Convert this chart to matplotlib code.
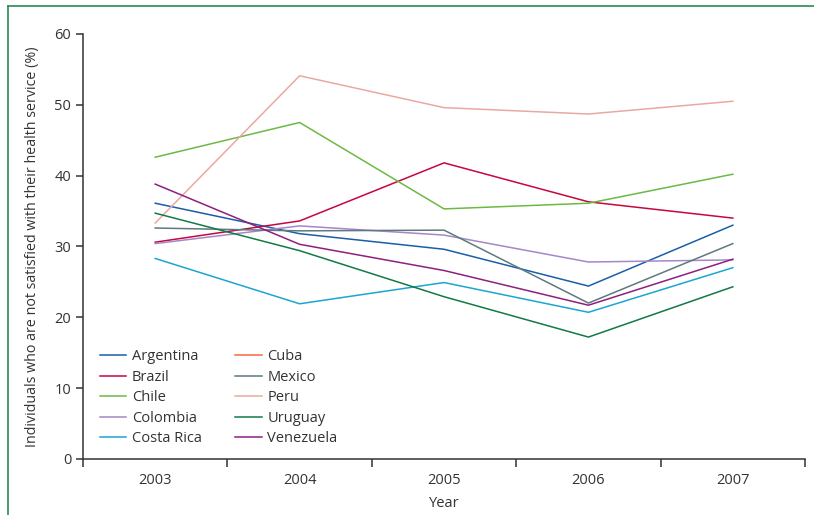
import numpy as np
import matplotlib.pyplot as plt
from matplotlib.lines import Line2D

plt.rcParams['font.family'] = ['Open Sans', 'DejaVu Sans']

years = ["2003", "2004", "2005", "2006", "2007"]

argentina = [36.1, 31.8, 29.6, 24.4, 33.0]
brazil = [30.6, 33.6, 41.8, 36.3, 34.0]
chile = [42.6, 47.5, 35.3, 36.1, 40.2]
colombia = [30.4, 32.9, 31.6, 27.8, 28.1]
costa_rica = [28.3, 21.9, 24.9, 20.7, 27.0]
cuba = [np.nan, np.nan, np.nan, np.nan, np.nan]   # no data shown
mexico = [32.6, 32.2, 32.3, 22.0, 30.4]
peru = [33.3, 54.1, 49.6, 48.7, 50.5]
uruguay = [34.7, 29.4, 22.9, 17.2, 24.3]
venezuela = [38.8, 30.3, 26.6, 21.7, 28.2]

countries = ["Argentina", "Brazil", "Chile", "Colombia", "Costa Rica",
             "Cuba", "Mexico", "Peru", "Uruguay", "Venezuela"]
values = [argentina, brazil, chile, colombia, costa_rica,
          cuba, mexico, peru, uruguay, venezuela]
colors = ["#1a5ea8", "#c8063f", "#6cb944", "#a488c8", "#1ba6d1",
          "#f26b3f", "#5e7980", "#eba8a1", "#137a45", "#8e1f80"]

text_col = "#333333"

fig = plt.figure(figsize=(8.14, 5.15), dpi=100)
ax = fig.add_axes([0.102, 0.109, 0.887, 0.825])

x = np.arange(len(years))
for name, vals, c in zip(countries, values, colors):
    ax.plot(x, vals, color=c, lw=1.1, label=name)

ax.set_xlim(-0.5, len(years) - 0.5)
ax.set_ylim(0, 60)
ax.set_yticks(range(0, 61, 10))

# boundary ticks between years, labels centred
ax.set_xticks(np.arange(-0.5, len(years), 1.0))
ax.set_xticklabels([])
ax.set_xticks(x, minor=True)
ax.set_xticklabels(years, minor=True)
ax.tick_params(axis="x", which="major", length=6, width=1.1, color=text_col)
ax.tick_params(axis="x", which="minor", length=0, pad=10,
               labelsize=10.5, labelcolor=text_col)
ax.tick_params(axis="y", length=5, width=1.1, color=text_col,
               labelsize=10.5, labelcolor=text_col)

for s in ["top", "right"]:
    ax.spines[s].set_visible(False)
for s in ["left", "bottom"]:
    ax.spines[s].set_linewidth(1.1)
    ax.spines[s].set_color(text_col)

ax.set_xlabel("Year", fontsize=10.5, color=text_col, labelpad=6)
ax.set_ylabel("Individuals who are not satisfied with their health service (%)",
              fontsize=10.3, color=text_col, labelpad=10)

leg = ax.legend(loc="upper left", bbox_to_anchor=(0.005, 0.289), ncol=2,
                frameon=False, fontsize=10.5, handlelength=1.8,
                handletextpad=0.4, columnspacing=2.3, labelspacing=0.38)
for t in leg.get_texts():
    t.set_color(text_col)

# green frame lines
frame = "#2a8a55"
fig.add_artist(Line2D([8 / 814, 8 / 814], [0, 1 - 6 / 515], color=frame, lw=1.2))
fig.add_artist(Line2D([8 / 814, 1], [1 - 6 / 515, 1 - 6 / 515], color=frame, lw=1.2))

fig.savefig("out.png", dpi=100)
